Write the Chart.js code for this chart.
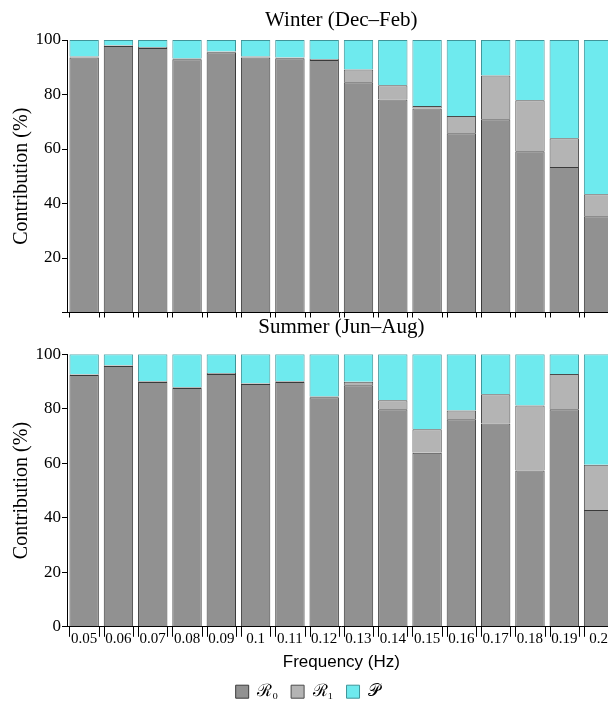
<!DOCTYPE html>
<html>
<head>
<meta charset="utf-8">
<script src="https://cdn.jsdelivr.net/npm/chart.js@4"></script>
<style>
  body { margin: 0; background: #fff; }
  #wrap { position: relative; width: 608px; height: 703px; overflow: hidden; }
  .box { position: absolute; left: 0; width: 620px; }
</style>
</head>
<body>
<div id="wrap">
  <div class="box" style="top:0;height:321px"><canvas id="winterChart"></canvas></div>
  <div class="box" style="top:312px;height:391px"><canvas id="summerChart"></canvas></div>
</div>
<script>
const freqLabels = ['0.05', '0.06', '0.07', '0.08', '0.09', '0.1', '0.11', '0.12', '0.13', '0.14', '0.15', '0.16', '0.17', '0.18', '0.19', '0.2'];
const seriesNames = ['ℛ₀', 'ℛ₁', '𝒫'];
const yTicks = [0, 20, 40, 60, 80, 100];

// Winter (Dec-Feb)
const winterR0 = [93.6, 97.8, 97.1, 92.9, 95.5, 93.6, 93.3, 92.7, 84.5, 78.2, 74.9, 65.8, 70.9, 59.2, 53.4, 35.3];
const winterR1 = [0.3, 0.3, 0.3, 0.3, 0.3, 0.3, 0.3, 0.3, 4.7, 5.2, 0.9, 6.3, 16.1, 18.7, 10.5, 8.1];
const winterP = [6.1, 1.9, 2.6, 6.8, 4.2, 6.1, 6.4, 7.0, 10.8, 16.6, 24.2, 27.9, 13.0, 22.1, 36.1, 56.6];

// Summer (Jun-Aug)
const summerR0 = [92.4, 95.7, 89.8, 87.6, 92.8, 89.1, 89.8, 84.2, 88.6, 79.8, 63.9, 76.2, 74.6, 57.4, 79.8, 42.9];
const summerR1 = [0.3, 0.3, 0.3, 0.3, 0.3, 0.3, 0.3, 0.3, 1.3, 3.3, 8.6, 3.2, 10.7, 23.8, 13.0, 16.6];
const summerP = [7.3, 4.0, 9.9, 12.1, 6.9, 10.6, 9.9, 15.5, 10.1, 16.9, 27.5, 20.6, 14.7, 18.8, 7.2, 40.5];

const fillColors = ['#919191', '#b4b4b4', '#6eeaee'];
const edgeColors = ['#3a3a3a', '#4a4a4a', '#3f9599'];
const serif = "'Liberation Serif', 'DejaVu Serif', serif";

// small tick marks under both edges of every bar
const edgeTicks = {
    id: 'edgeTicks',
    afterDraw(chart, args, opts) {
        const ctx = chart.ctx;
        const y0 = chart.chartArea.bottom;
        ctx.save();
        ctx.strokeStyle = '#000';
        ctx.lineWidth = 1;
        chart.getDatasetMeta(0).data.forEach(bar => {
            [bar.x - bar.width / 2, bar.x + bar.width / 2].forEach(x => {
                const px = Math.round(x) + 0.5;
                ctx.beginPath();
                ctx.moveTo(px, y0);
                ctx.lineTo(px, y0 + opts.length);
                ctx.stroke();
            });
        });
        ctx.restore();
    }
};

function makeChart(id, title, r0, r1, p, bottom) {
    const values = [r0, r1, p];
    return new Chart(document.getElementById(id), {
        type: 'bar',
        data: {
            labels: freqLabels,
            datasets: values.map((v, i) => ({
                label: seriesNames[i],
                data: v,
                backgroundColor: fillColors[i],
                borderColor: edgeColors[i],
                borderWidth: 1,
                barPercentage: 0.857,
                categoryPercentage: 1
            }))
        },
        options: {
            responsive: true,
            maintainAspectRatio: false,
            animation: false,
            layout: { padding: { left: 0, right: 4.3, top: 0, bottom: bottom ? -7.2 : 0 } },
            plugins: {
                title: {
                    display: true,
                    text: title,
                    fullSize: false,
                    color: '#000',
                    font: { family: serif, size: 21, weight: 'normal' },
                    padding: bottom ? { top: 2.4, bottom: 14.7 } : { top: 7.4, bottom: 7.4 }
                },
                legend: {
                    display: bottom,
                    position: 'bottom',
                    labels: {
                        boxWidth: 13,
                        boxHeight: 13,
                        padding: 13,
                        color: '#000',
                        font: { family: serif, size: 17 }
                    }
                },
                tooltip: { enabled: false },
                edgeTicks: { length: bottom ? 10 : 5 }
            },
            scales: {
                x: {
                    stacked: true,
                    grid: { display: false },
                    border: { display: true, color: '#000', width: 1 },
                    ticks: {
                        display: bottom,
                        color: '#000',
                        padding: -5,
                        maxRotation: 0,
                        autoSkip: false,
                        font: { family: serif, size: 15 }
                    },
                    title: {
                        display: bottom,
                        text: 'Frequency (Hz)',
                        color: '#000',
                        font: { family: "'Liberation Sans', sans-serif", size: 17 },
                        padding: { top: 0, bottom: -2.2 }
                    },
                    afterFit: scale => { scale.height = bottom ? 43.4 : 8.5; }
                },
                y: {
                    stacked: true,
                    min: 0,
                    max: 100,
                    afterBuildTicks: scale => { scale.ticks = yTicks.map(v => ({ value: v })); },
                    grid: { drawOnChartArea: false, drawTicks: true, tickLength: 5, color: '#000' },
                    border: { display: true, color: '#000', width: 1 },
                    ticks: {
                        color: '#000',
                        padding: 1,
                        font: { family: serif, size: 17 },
                        callback: v => (!bottom && v === 0) ? '' : v
                    },
                    title: {
                        display: true,
                        text: 'Contribution (%)',
                        color: '#000',
                        font: { family: serif, size: 20 },
                        padding: { top: 10, bottom: 0 }
                    },
                    afterFit: scale => {
                        scale.width = 67;
                        scale.paddingTop = 0;
                        scale.paddingBottom = 0;
                    }
                }
            }
        },
        plugins: [edgeTicks]
    });
}

makeChart('winterChart', 'Winter (Dec–Feb)', winterR0, winterR1, winterP, false);
makeChart('summerChart', 'Summer (Jun–Aug)', summerR0, summerR1, summerP, true);
</script>
</body>
</html>
